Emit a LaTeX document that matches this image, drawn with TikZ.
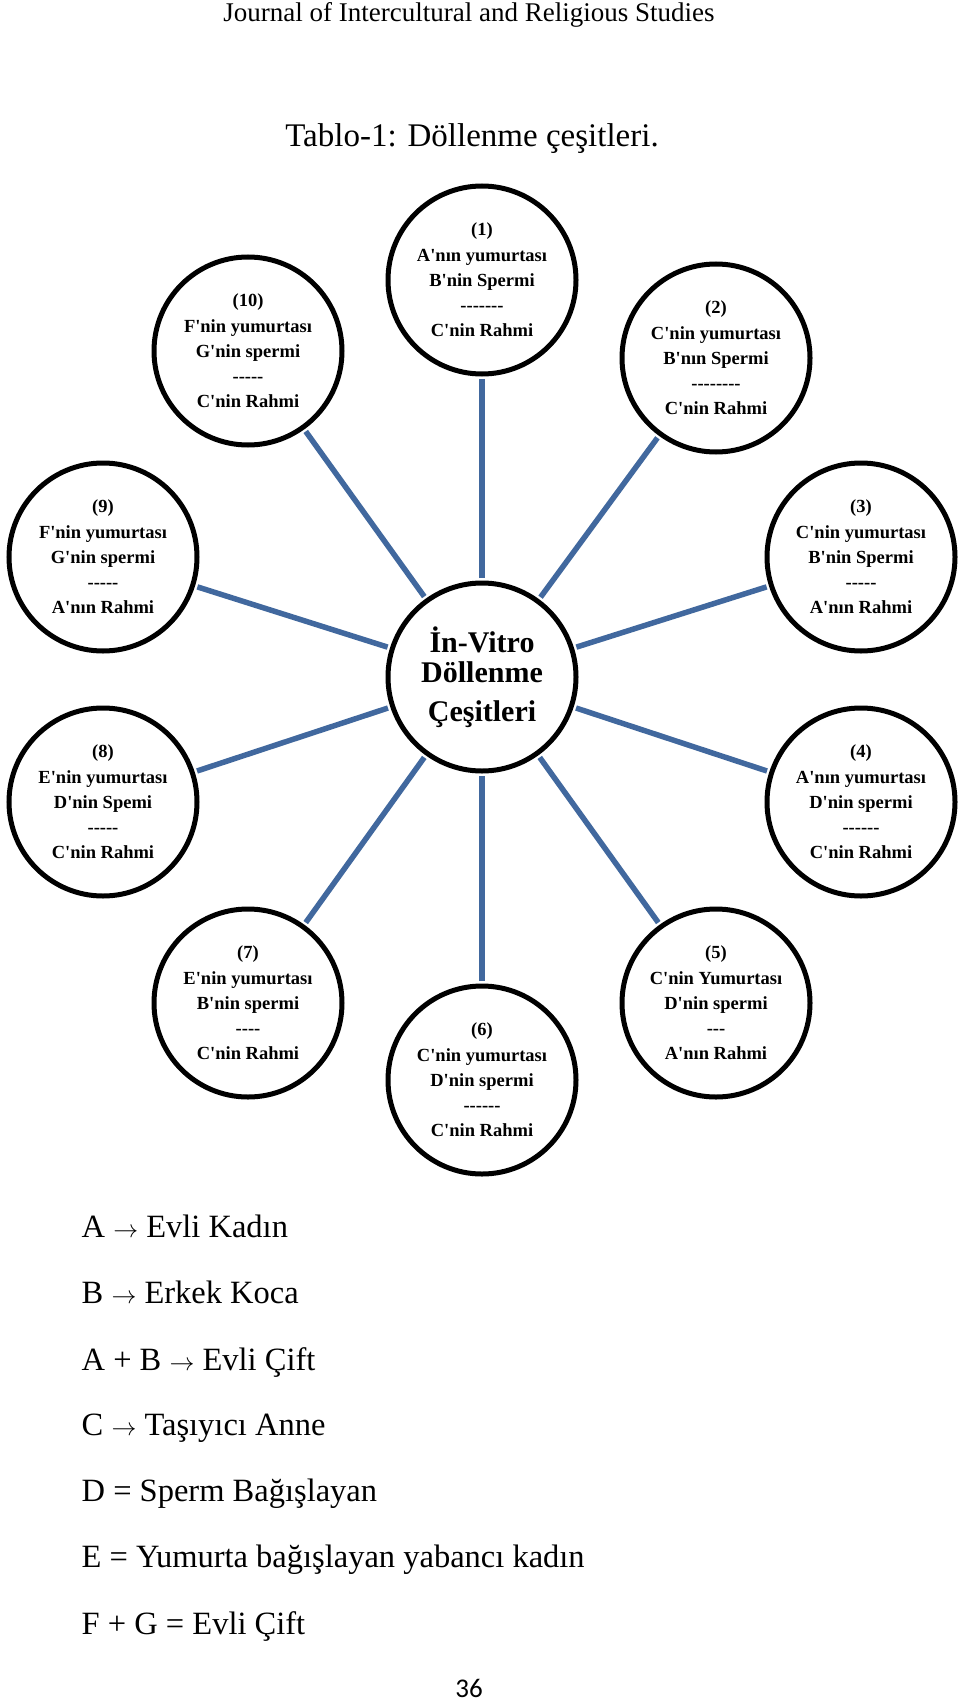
\documentclass[tikz,border=0pt]{standalone}
\usepackage{fontspec}
\setmainfont{Liberation Serif}
\newfontfamily\pgnumfont{Carlito}
\definecolor{spokeblue}{RGB}{65,104,158}
\newcommand{\aps}{\textquotesingle}
\begin{document}
\begin{tikzpicture}[x=1pt,y=-1pt,
  ring/.style={circle, draw=black, line width=5pt, fill=white, minimum size=188pt, inner sep=0pt,
    align=center, font=\bfseries\fontsize{18.5}{25.2}\selectfont},
  hub/.style={ring, font=\bfseries\fontsize{30}{30}\selectfont},
  spoke/.style={draw=spokeblue, line width=5.5pt, shorten <=2.5pt, shorten >=2.5pt},
  legend/.style={anchor=base west, font=\fontsize{32.5}{36}\selectfont, inner sep=0pt},
  plain/.style={anchor=base, inner sep=0pt}
]
\useasboundingbox (0,0) rectangle (960,1704);
\fill[white] (0,0) rectangle (960,1704);

\node[plain, font=\fontsize{27}{30}\selectfont] (header) at (469,22) {Journal of Intercultural and Religious Studies};
\node[plain, font=\fontsize{33}{36}\selectfont] (title) at (472,147) {Tablo-1: Döllenme çeşitleri.};

\coordinate (p0) at (482,677);
\coordinate (p1) at (482,280);
\coordinate (p2) at (716,358);
\coordinate (p3) at (861,557);
\coordinate (p4) at (861,802);
\coordinate (p5) at (716,1003);
\coordinate (p6) at (482,1080);
\coordinate (p7) at (248,1003);
\coordinate (p8) at (103,802);
\coordinate (p9) at (103,557);
\coordinate (p10) at (248,351);

\node[hub] (c0) at (p0) {İn-Vitro\\Döllenme\\[9pt]Çeşitleri};

\node[ring] (c1) at (p1) {(1)\\A\aps nın yumurtası\\B\aps nin Spermi\\-{}-{}-{}-{}-{}-{}-\\C\aps nin Rahmi};
\node[ring] (c2) at (p2) {(2)\\C\aps nin yumurtası\\B\aps nın Spermi\\-{}-{}-{}-{}-{}-{}-{}-\\C\aps nin Rahmi};
\node[ring] (c3) at (p3) {(3)\\C\aps nin yumurtası\\B\aps nin Spermi\\-{}-{}-{}-{}-\\A\aps nın Rahmi};
\node[ring] (c4) at (p4) {(4)\\A\aps nın yumurtası\\D\aps nin spermi\\-{}-{}-{}-{}-{}-\\C\aps nin Rahmi};
\node[ring] (c5) at (p5) {(5)\\C\aps nin Yumurtası\\D\aps nin spermi\\-{}-{}-\\A\aps nın Rahmi};
\node[ring] (c6) at (p6) {(6)\\C\aps nin yumurtası\\D\aps nin spermi\\-{}-{}-{}-{}-{}-\\C\aps nin Rahmi};
\node[ring] (c7) at (p7) {(7)\\E\aps nin yumurtası\\B\aps nin spermi\\-{}-{}-{}-\\C\aps nin Rahmi};
\node[ring] (c8) at (p8) {(8)\\E\aps nin yumurtası\\D\aps nin Spemi\\-{}-{}-{}-{}-\\C\aps nin Rahmi};
\node[ring] (c9) at (p9) {(9)\\F\aps nin yumurtası\\G\aps nin spermi\\-{}-{}-{}-{}-\\A\aps nın Rahmi};
\node[ring] (c10) at (p10) {(10)\\F\aps nin yumurtası\\G\aps nin spermi\\-{}-{}-{}-{}-\\C\aps nin Rahmi};

\foreach \k in {1,...,10} {
  \draw[spoke] (c0) -- (c\k);
}

\node[legend] (l1) at (81.5,1237.4) {A $\rightarrow$ Evli Kadın};
\node[legend] (l2) at (81.5,1303.7) {B $\rightarrow$ Erkek Koca};
\node[legend] (l3) at (81.5,1370) {A + B $\rightarrow$ Evli Çift};
\node[legend] (l4) at (81.5,1435.2) {C $\rightarrow$ Taşıyıcı Anne};
\node[legend] (l5) at (81.5,1501.6) {D = Sperm Bağışlayan};
\node[legend] (l6) at (81.5,1567.9) {E = Yumurta bağışlayan yabancı kadın};
\node[legend] (l7) at (81.5,1634.2) {F + G = Evli Çift};

\node[plain, font=\pgnumfont\fontsize{27}{30}\selectfont] (pg) at (469,1697) {36};
\end{tikzpicture}
\end{document}
